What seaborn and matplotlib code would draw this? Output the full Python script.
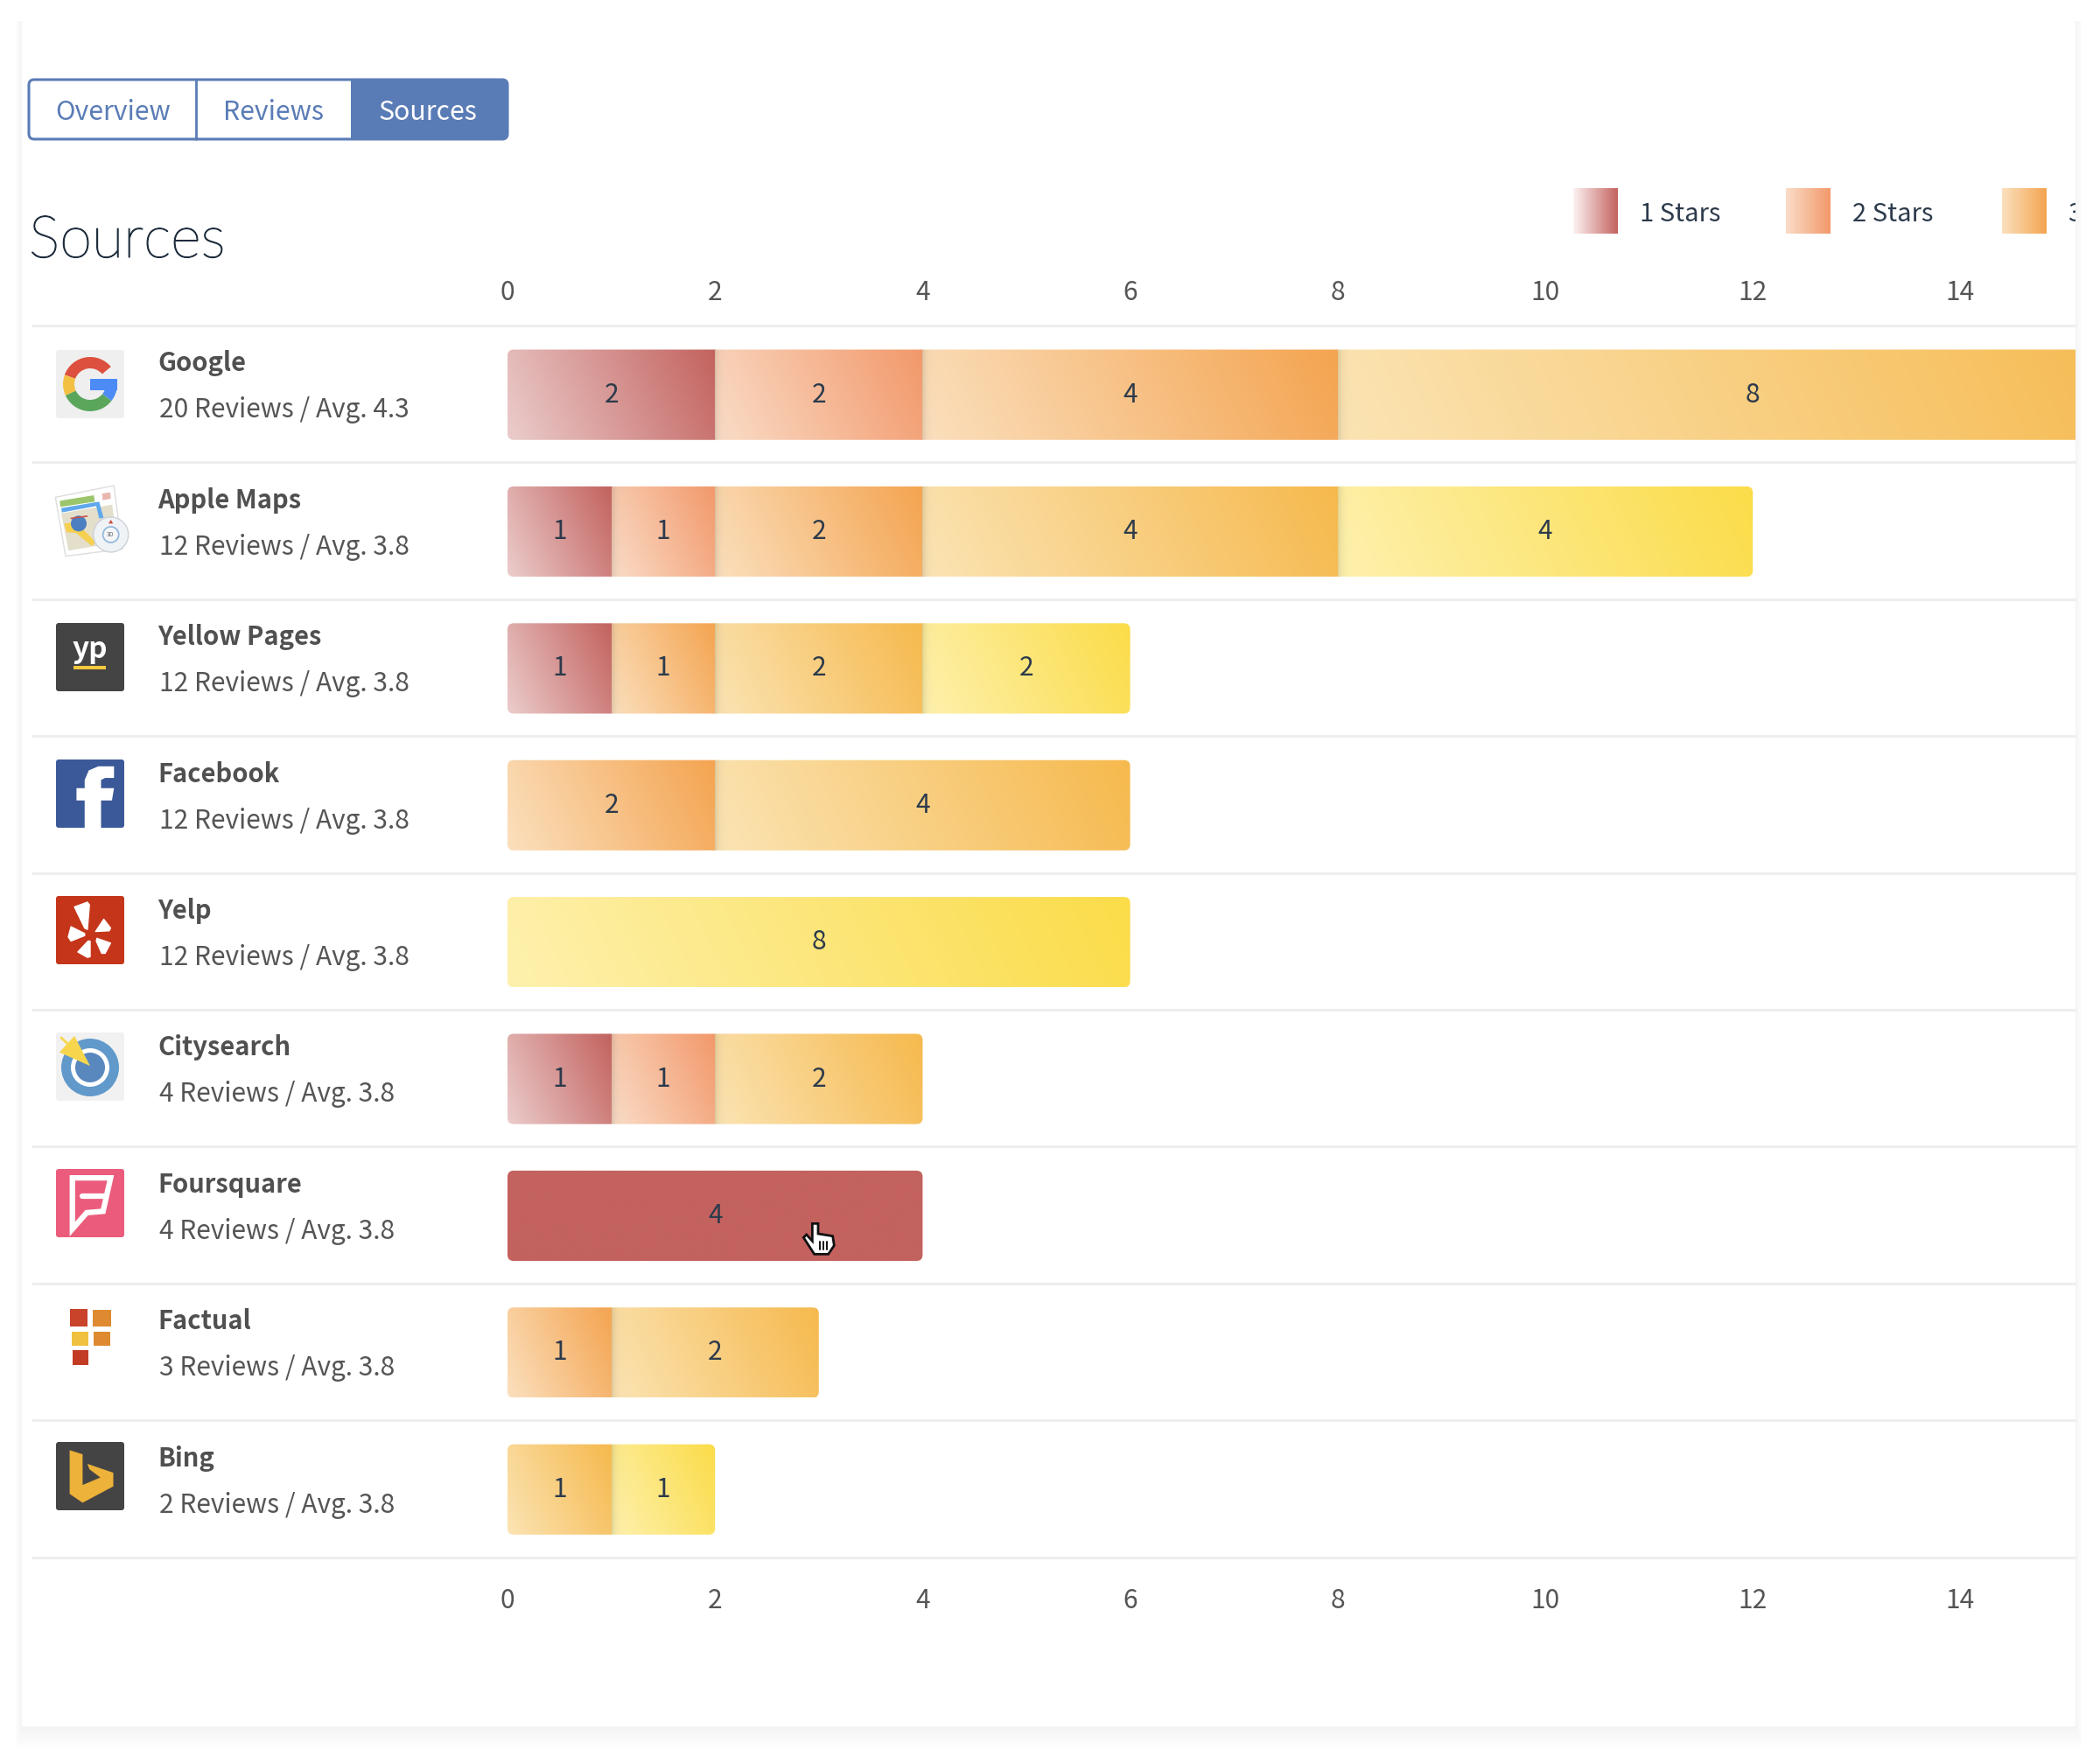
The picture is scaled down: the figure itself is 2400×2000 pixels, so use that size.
import numpy as np
import pandas as pd
import matplotlib
matplotlib.use("Agg")
import matplotlib.pyplot as plt
import matplotlib.patheffects as pe
from matplotlib.patches import Circle, FancyBboxPatch, Polygon, Rectangle, Wedge
from matplotlib.transforms import IdentityTransform
import seaborn as sns

# data
sources = ["Google", "Apple Maps", "Yellow Pages", "Facebook", "Yelp",
           "Citysearch", "Foursquare", "Factual", "Bing"]
subtitles = ["20 Reviews / Avg. 4.3", "12 Reviews / Avg. 3.8", "12 Reviews / Avg. 3.8",
             "12 Reviews / Avg. 3.8", "12 Reviews / Avg. 3.8", "4 Reviews / Avg. 3.8",
             "4 Reviews / Avg. 3.8", "3 Reviews / Avg. 3.8", "2 Reviews / Avg. 3.8"]
stars_1 = [2, 1, 1, 0, 0, 1, 4, 0, 0]
stars_2 = [2, 1, 0, 0, 0, 1, 0, 0, 0]
stars_3 = [4, 2, 1, 2, 0, 0, 0, 1, 0]
stars_4 = [8, 4, 2, 4, 0, 2, 0, 2, 1]
stars_5 = [0, 4, 2, 0, 6, 0, 0, 0, 1]
# the Yelp bar is drawn 6 long in the picture but is labelled 8
label_override = {"Yelp": "8"}
star_names = ["1 Stars", "2 Stars", "3 Stars", "4 Stars", "5 Stars"]
x_ticks = [0, 2, 4, 6, 8, 10, 12, 14]
tabs = ["Overview", "Reviews", "Sources"]

# colours, light end and dark end of each gradient
grad_start = ["#EBCDCC", "#FADDC8", "#FBE0BE", "#FBE4B4", "#FEF1AE"]
grad_end = ["#C3625E", "#F2986A", "#F4A450", "#F6B94D", "#FBDC48"]
hover_rows = ["Foursquare"]

BLUE = "#5A7CB6"
DARK = "#2C3A4B"
GREY = "#555555"
RULE = "#EEEEEE"
FONT = ["Noto Sans CJK SC", "DejaVu Sans"]

sns.set_theme(style="white")
plt.rcParams["font.family"] = FONT

df = pd.DataFrame({"source": sources, "s1": stars_1, "s2": stars_2, "s3": stars_3,
                   "s4": stars_4, "s5": stars_5})
star_cols = ["s1", "s2", "s3", "s4", "s5"]

W, H = 2400, 2000
fig = plt.figure(figsize=(W / 100, H / 100), dpi=100, facecolor="white")


def full_axes(z):
    a = fig.add_axes([0, 0, 1, 1], zorder=z)
    a.set_xlim(0, W)
    a.set_ylim(H, 0)
    a.axis("off")
    return a


def to_rgb(c):
    return np.array(matplotlib.colors.to_rgb(c))


def gradient(w, h, c0, c1, angle=25, shadow=False):
    # css style linear gradient at a fixed angle
    w, h = int(max(w, 2)), int(max(h, 2))
    xx, yy = np.meshgrid(np.arange(w) + 0.5, np.arange(h) + 0.5)
    a = np.radians(angle)
    length = w * np.cos(a) + h * np.sin(a)
    t = ((xx - w / 2) * np.cos(a) + (h / 2 - yy) * np.sin(a)) / length + 0.5
    t = np.clip(t, 0, 1)[..., None]
    img = to_rgb(c0) * (1 - t) + to_rgb(c1) * t
    if shadow:
        img = img * (1 - 0.13 * np.exp(-xx / 4))[..., None]
    return img


# card with its soft shadow, heavier below
bg = full_axes(0)
for i in range(12):
    bg.add_patch(Rectangle((25 - i * 0.7, 24), 2347 + i * 1.4, 1950 + i * 2.2,
                           fc="black", ec="none", alpha=0.005))
bg.add_patch(Rectangle((25, 22), 2347, 1951, fc="white", ec="none"))

# chart
ax = fig.add_axes([36 / W, 1 - 1779.5 / H, 2336 / W, 1407.5 / H], zorder=1)
ax.patch.set_visible(False)

unit = 118.6
row_px = 1407.5 / 9
y_off = -0.506
left = np.zeros(len(sources))
for k, col in enumerate(star_cols):
    sns.barplot(data=df, x=col, y="source", order=sources, left=left, width=0.66,
                color=grad_end[k], saturation=1, errorbar=None, ax=ax, zorder=1.5)
    left = left + df[col].values
totals = left

ax.set_xlim(-544 / unit, 1792 / unit)
ax.set_ylim(len(sources) + y_off, y_off)
ax.set_xlabel("")
ax.set_ylabel("")
ax.set_yticks([])
ax.set_xticks(x_ticks)
ax.set_xticklabels([str(t) for t in x_ticks])
ax.tick_params(axis="x", length=0, pad=25, labelsize=21.5, labelcolor=GREY,
               top=False, bottom=False, labelbottom=True)
top_axis = ax.secondary_xaxis("top")
top_axis.set_xticks(x_ticks)
top_axis.set_xticklabels([str(t) for t in x_ticks])
top_axis.tick_params(length=0, pad=15.5, labelsize=21.5, labelcolor=GREY)
top_axis.spines["top"].set_visible(False)
for s in ax.spines.values():
    s.set_visible(False)
for r in np.arange(len(sources) + 1) + y_off:
    ax.axhline(r, color=RULE, lw=2.2, zorder=1, clip_on=False, solid_capstyle="butt")

# gradient fill, value label and rounded ends for every stacked row
bar_h = 0.66
row_clip = []
for i in range(len(sources)):
    (x0, y1) = ax.transData.transform((0, i + bar_h / 2))
    (x1, y0) = ax.transData.transform((totals[i], i - bar_h / 2))
    row_clip.append(FancyBboxPatch((x0, y1), x1 - x0, y0 - y1,
                                   boxstyle="round,pad=0,rounding_size=7",
                                   transform=IdentityTransform(), fc="none", ec="none"))

for k, container in enumerate(ax.containers):
    for i, bar in enumerate(container.patches):
        val = bar.get_width()
        if val == 0:
            continue
        bar.set_alpha(0)
        bx, by = bar.get_x(), bar.get_y()
        bh = bar.get_height()
        px_w = val * unit
        px_h = bh * row_px
        if sources[i] in hover_rows:
            img = gradient(px_w, px_h, grad_end[k], grad_end[k])
        else:
            img = gradient(px_w, px_h, grad_start[k], grad_end[k], shadow=bx > 0)
        im = ax.imshow(img, extent=(bx, bx + val, by + bh, by), origin="upper",
                       aspect="auto", interpolation="bilinear", zorder=2)
        im.set_clip_path(row_clip[i])
        ax.text(bx + val / 2, by + bh / 2, label_override.get(sources[i], str(int(val))),
                color=DARK, fontsize=21.5, ha="center", va="center", zorder=4)
ax.set_xlim(-544 / unit, 1792 / unit)
ax.set_ylim(len(sources) + y_off, y_off)

# page furniture and text
ui = full_axes(2)
ui.patch.set_visible(False)

# tabs
ui.add_patch(FancyBboxPatch((33, 91), 547, 68, boxstyle="round,pad=0,rounding_size=6",
                            fc="white", ec=BLUE, lw=2.2))
ui.add_patch(FancyBboxPatch((401, 90), 179, 70, boxstyle="round,pad=0,rounding_size=6",
                            fc=BLUE, ec=BLUE, lw=0))
ui.add_patch(Rectangle((401, 90), 20, 70, fc=BLUE, ec="none"))
ui.plot([224, 224], [91, 159], color=BLUE, lw=2)
for name, cx, c in zip(tabs, [129, 313, 489], [BLUE, BLUE, "white"]):
    ui.text(cx, 137, name, color=c, fontsize=21.8, ha="center", va="baseline")

title = ui.text(33, 294, "Sources", color="#1E2D3D", fontsize=48, family=["Lato", "DejaVu Sans"],
                fontweight="light", va="baseline")
title.set_path_effects([pe.withStroke(linewidth=0.9, foreground="#1E2D3D")])

# legend, runs off the card on the right
card_clip = Rectangle((0, 0), 2372, H, transform=ui.transData)
swatches = [(1798, 1874), (2041, 2117), (2288, 2364)]
for k, (sx, tx) in enumerate(swatches):
    c0 = "#FDF3F3" if k == 0 else grad_start[k]
    ui.imshow(gradient(51, 52, c0, grad_end[k], angle=0), extent=(sx, sx + 51, 267, 215),
              origin="upper", aspect="auto", interpolation="bilinear")
    t = ui.text(tx, 253, star_names[k], color=DARK, fontsize=21, va="baseline", clip_on=True)
    t.set_clip_path(card_clip)
ui.set_xlim(0, W)
ui.set_ylim(H, 0)

# source names and review counts
row_top = [372 + row_px * i for i in range(len(sources))]
for name, sub, top in zip(sources, subtitles, row_top):
    ui.text(180, top + 52.5, name, color="#505050", fontsize=21, fontweight="bold",
            va="baseline")
    ui.text(182, top + 105.5, sub, color=GREY, fontsize=21.5, va="baseline")


# logos, drawn in a unit box of 78 px at the row's bar top
def icon_box(i):
    return 64, 400 + 156 * i


def unit_poly(i, pts, **kws):
    x0, y0 = icon_box(i)
    ui.add_patch(Polygon([(x0 + 78 * a, y0 + 78 * b) for a, b in pts], closed=True, **kws))


def icon_bg(i, color):
    x0, y0 = icon_box(i)
    ui.add_patch(FancyBboxPatch((x0, y0), 78, 78, boxstyle="round,pad=0,rounding_size=3",
                                fc=color, ec="none"))


# Google
icon_bg(0, "#EFEFEF")
x0, y0 = icon_box(0)
cx, cy = x0 + 39, y0 + 39
for a, b, c in [(200, 320, "#DD4F3E"), (155, 200, "#F3C044"), (38, 155, "#5AA65B"),
                (0, 38, "#4C8BF5")]:
    ui.add_patch(Wedge((cx, cy), 31, a, b, width=13, fc=c, ec="none"))
ui.add_patch(Rectangle((cx, cy - 6), 31, 13, fc="#4C8BF5", ec="none"))

# Apple Maps, in crop coordinates of the logo
def am(pts):
    return [(50 + a / 3, 540 + b / 3) for a, b in pts]


ui.add_patch(Polygon(am([(40, 85), (240, 45), (270, 262), (75, 287)]), fc="white", ec="#DDDDDD", lw=1))
ui.add_patch(Polygon(am([(60, 140), (235, 110), (250, 240), (85, 268)]), fc="#E4DFCB", ec="none"))
ui.add_patch(Polygon(am([(55, 97), (172, 78), (175, 100), (57, 118)]), fc="#9CC56B", ec="none"))
ui.add_patch(Polygon(am([(200, 72), (228, 68), (230, 90), (202, 95)]), fc="#E8B8B0", ec="none"))
ui.add_patch(Polygon(am([(60, 122), (190, 100), (205, 155), (190, 158), (180, 115), (62, 137)]),
                     fc="#5FA8EC", ec="none"))
ui.add_patch(Polygon(am([(70, 175), (110, 170), (178, 238), (165, 252), (110, 207), (78, 205)]),
                     fc="#F6D050", ec="none"))
ui.add_patch(Circle(am([(120, 175)])[0], 9, fc="#4A7FC1", ec="none"))
ui.add_patch(Polygon(am([(92, 155), (150, 147), (150, 152), (92, 160)]), fc="#C8504A", ec="none"))
ui.add_patch(Circle(am([(230, 213)])[0], 20, fc="#F0F3F6", ec="#CDD2D8", lw=1))
ui.add_patch(Circle(am([(230, 213)])[0], 9, fc="#F4F6F8", ec="#8FB5DC", lw=1.2))
ui.add_patch(Polygon(am([(230, 162), (238, 175), (222, 175)]), fc="#CF4B3C", ec="none"))
ui.text(*am([(228, 213)])[0], "3D", fontsize=5, color="#666666", ha="center", va="center")

# Yellow Pages
icon_bg(2, "#444444")
x0, y0 = icon_box(2)
ui.text(x0 + 39, y0 + 40, "yp", color="white", fontsize=24, fontweight="bold", ha="center",
        va="baseline")
ui.add_patch(Rectangle((x0 + 20, y0 + 49), 37, 4, fc="#F4C93C", ec="none"))

# Facebook
icon_bg(3, "#3B5998")
unit_poly(3, [(.42, 1), (.42, .6), (.3, .6), (.3, .42), (.42, .42), (.42, .3), (.48, .16),
              (.62, .1), (.85, .1), (.85, .27), (.72, .27), (.66, .3), (.66, .42), (.85, .42),
              (.82, .6), (.66, .6), (.66, 1)], fc="white", ec="none")

# Yelp
icon_bg(4, "#C5351A")
for pts in [[(.27, .16), (.46, .09), (.49, .13), (.46, .49), (.42, .47)],
            [(.58, .52), (.70, .34), (.8, .47), (.78, .51)],
            [(.22, .45), (.42, .55), (.42, .58), (.22, .66), (.18, .6)],
            [(.50, .66), (.50, .89), (.46, .9), (.32, .82), (.47, .66)],
            [(.6, .62), (.8, .69), (.72, .84), (.67, .84), (.59, .66)]]:
    unit_poly(4, pts, fc="white", ec="white", lw=1, joinstyle="round")

# Citysearch
icon_bg(5, "#F1F1F1")
x0, y0 = icon_box(5)
ui.add_patch(Circle((x0 + 39, y0 + 40), 33, fc="#6199CB", ec="none"))
ui.add_patch(Circle((x0 + 39, y0 + 40), 22, fc="white", ec="none"))
ui.add_patch(Circle((x0 + 39, y0 + 40), 17, fc="#5888BE", ec="none"))
unit_poly(5, [(.27, .05), (.5, .49), (.05, .29)], fc="#F7D64E", ec="none")
ui.plot([x0 + 6, x0 + 22], [y0 + 6, y0 + 21], color="#F7D64E", lw=2)

# Foursquare
icon_bg(6, "#EB5B7C")
unit_poly(6, [(.24, .13), (.8, .13), (.69, .62), (.45, .64), (.24, .88)], fc="#EB5B7C",
          ec="white", lw=4.5)
x0, y0 = icon_box(6)
ui.plot([x0 + 30, x0 + 56], [y0 + 31, y0 + 31], color="white", lw=4.5)

# Factual
x0, y0 = icon_box(7)
for a, b, w, h, c in [(.2, .05, .26, .26, "#C9432A"), (.54, .07, .27, .24, "#DD8A30"),
                      (.23, .38, .24, .21, "#EFC13F"), (.55, .38, .25, .21, "#DD8A30"),
                      (.24, .65, .23, .22, "#C23B25")]:
    ui.add_patch(Rectangle((x0 + 78 * a, y0 + 78 * b), 78 * w, 78 * h, fc=c, ec="none"))

# Bing
icon_bg(8, "#444444")
unit_poly(8, [(.2, .12), (.39, .18), (.39, .63), (.65, .52), (.49, .4), (.46, .32), (.84, .45),
              (.84, .65), (.39, .89), (.2, .76)], fc="#EDB23A", ec="none")


# hand cursor over the hovered bar
def hand(pts):
    return [(900 + a / 3, 1380 + b / 3) for a, b in pts]


ui.add_patch(Polygon(hand([(85, 55), (105, 55), (105, 90), (155, 98), (160, 130), (140, 160),
                           (92, 160), (55, 103), (65, 93), (85, 115)]),
                     fc="white", ec="#111111", lw=2))
for cxx in (112, 124, 136):
    ui.plot(*zip(*hand([(cxx, 118), (cxx, 145)])), color="#111111", lw=1.4)

fig.savefig("out.png", dpi=100)
